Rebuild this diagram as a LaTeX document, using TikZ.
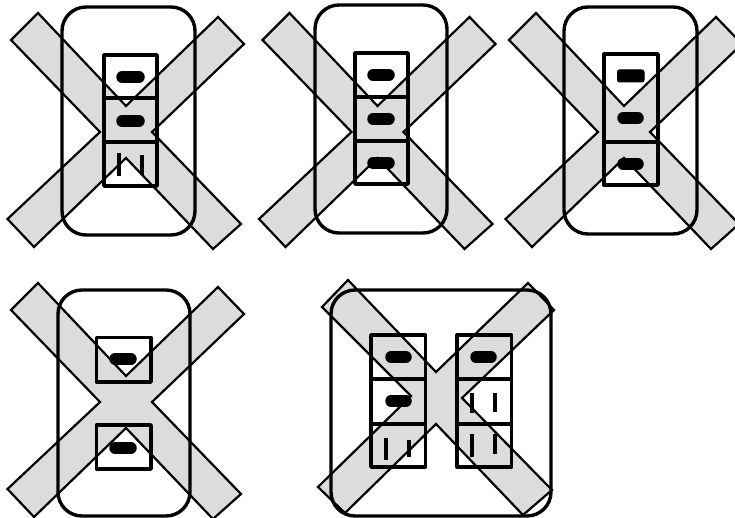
\documentclass[tikz,border=0pt]{standalone}
\tikzset{
  crossmark/.style={draw=black,fill=crossgray,line width=2.2pt,line join=miter},
  plate/.style={draw=black,line width=3.4pt,rounded corners=24pt},
  socket/.style={draw=black,line width=3.4pt,line join=round},
  divider/.style={draw=black,line width=3.4pt},
  slot/.style={draw=black,line width=11.5pt,line cap=round},
  squareslot/.style={draw=black,fill=black,line width=1pt,rounded corners=2pt},
  prong/.style={draw=black,line width=3.4pt}
}
\definecolor{crossgray}{HTML}{DCDCDC}
\newcommand{\crossat}[2]{%
  \path[crossmark,shift={(#1,#2)}] (38,13)--(126,106)--(218,17)--(244,44)--(152,132)--(241,224)--(213,249)--(126,158)--(34,247)--(7.5,219)--(100,132)--(11,40)--cycle;}
\begin{document}
\begin{tikzpicture}[x=1pt,y=-1pt]
\useasboundingbox (0,0) rectangle (735,518);
\clip (0,0) rectangle (735,518);
% crosses
\crossat{0}{0}
\crossat{251.5}{0}
\crossat{498}{0}
\crossat{0}{270}
\path[crossmark] (348,280)--(436,372)--(528,283)--(554,310)--(462,398)--(552,490)--(523,515)--(436,424)--(345,513)--(318,487)--(411,396)--(322,307)--cycle;
% panel 1
\draw[plate] (62,7) rectangle (195,235);
\draw[socket] (104,55) rectangle (157,186);
\draw[divider] (104,98)--(157,98);
\draw[divider] (104,142)--(157,142);
\draw[slot] (122,77)--(139,77);
\draw[slot] (122,121)--(139,121);
\draw[prong] (119,153)--(119,176);
\draw[prong] (142,155)--(142,175);
% panel 2
\draw[plate] (315,5) rectangle (447,233);
\draw[socket] (355,53) rectangle (408,184);
\draw[divider] (355,97)--(408,97);
\draw[divider] (355,141)--(408,141);
\draw[slot] (373,75)--(389,75);
\draw[slot] (373,119)--(389,119);
\draw[slot] (373,163)--(389,163);
% panel 3
\draw[plate] (564,7) rectangle (697,234);
\draw[socket] (604,54) rectangle (658,185);
\draw[divider] (604,142)--(658,142);
\path[squareslot] (617.5,70) rectangle (644,82);
\draw[slot] (623,118)--(638,118);
\draw[slot] (623,164)--(638,164);
% panel 4
\draw[plate] (58,290) rectangle (190,516);
\draw[socket] (96.5,337.5) rectangle (151,382);
\draw[socket] (96.5,425) rectangle (151,469);
\draw[slot] (115,359)--(131,359);
\draw[slot] (115,448)--(131,448);
% panel 5
\draw[plate] (331,290) rectangle (551,516);
\draw[socket] (371,335) rectangle (425.5,467);
\draw[divider] (371,379)--(425.5,379);
\draw[divider] (371,424)--(425.5,424);
\draw[slot] (391,357)--(406,357);
\draw[slot] (391,401)--(406,401);
\draw[prong] (386,438)--(386,460);
\draw[prong] (409,440)--(409,457);
\draw[socket] (457,335) rectangle (511.5,467);
\draw[divider] (457,379)--(511.5,379);
\draw[divider] (457,424)--(511.5,424);
\draw[slot] (476,357)--(491,357);
\draw[prong] (472,393)--(472,413);
\draw[prong] (495,393)--(495,412);
\draw[prong] (472,434)--(472,457);
\draw[prong] (495,434)--(495,454);
\end{tikzpicture}
\end{document}
